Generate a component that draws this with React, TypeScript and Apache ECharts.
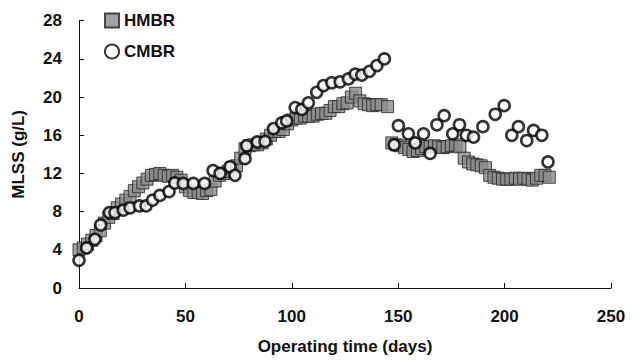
import React, { useEffect, useRef } from "react";
import * as echarts from "echarts";

const hmbrDays = [
  0, 2, 4, 6, 8, 10, 12, 14, 16, 18, 20, 22, 24, 26, 28, 30, 32, 34, 36, 38,
  40, 42, 44, 46, 48, 50, 52, 54, 56, 58, 60, 62, 64, 66, 68, 70, 72, 74, 76, 78,
  80, 82, 84, 86, 88, 90, 92, 94, 96, 98, 100, 102, 104, 106, 108, 110, 112, 114, 116, 118,
  120, 122, 124, 126, 128, 130, 132, 134, 136, 138, 140, 142, 145,
  147, 149, 151, 153, 155, 157, 159, 161, 163, 165, 167, 169, 171, 173, 175, 177, 179,
  181, 183, 185, 187, 189, 191, 193, 195, 197, 199, 201, 203, 205, 207, 209, 211, 213, 215, 217, 219, 221,
];
const hmbrValues = [
  4.0, 4.2, 4.6, 5.0, 5.5, 6.0, 6.8, 7.4, 7.8, 8.4, 8.8, 9.2, 9.6, 10.2, 10.6, 11.0, 11.4, 11.8, 11.9, 12.0,
  11.8, 11.7, 11.8, 11.6, 11.3, 10.6, 10.2, 10.0, 10.0, 9.9, 10.2, 10.3, 11.2, 11.8, 12.0, 12.2, 12.6, 12.8, 13.6, 14.6,
  14.9, 15.0, 15.0, 15.2, 15.6, 16.0, 16.4, 16.4, 16.6, 17.2, 17.6, 17.8, 17.8, 18.0, 18.0, 18.0, 18.2, 18.3, 18.3, 18.6,
  19.0, 19.0, 19.3, 19.4, 20.0, 20.4, 19.6, 19.3, 19.2, 19.1, 19.2, 19.2, 19.0,
  15.2, 15.0, 14.9, 14.7, 14.5, 14.3, 14.4, 14.6, 14.8, 14.8, 14.9, 14.8, 14.7, 14.8, 14.9, 15.0, 14.8,
  13.6, 13.2, 13.0, 12.9, 12.8, 12.6, 11.8, 11.6, 11.5, 11.4, 11.4, 11.4, 11.5, 11.4, 11.5, 11.4, 11.3, 11.5, 11.8, 11.8, 11.6,
];

const cmbrDays = [
  0, 3.6, 7.5, 10.2, 14.3, 16.9, 20.8, 24, 28.4, 31.5, 34.6, 38, 42.3, 45, 49, 53.7, 59, 63, 66.3, 71,
  73.3, 78, 78.8, 83.8, 87.4, 91.4, 95.3, 97.6, 101.6, 104.7, 107.8, 111.7, 114.9, 118.8, 122.7, 126.6, 129.8, 132.9, 136.5, 140,
  143.5, 148.1, 150.1, 154.8, 158, 161.9, 165, 168.2, 171.6, 175.6, 178.8, 182, 185.4, 189.8, 195.6, 199.8, 203.4, 206.5, 210.4, 213.6,
  217.5, 220.4,
];
const cmbrValues = [
  2.9, 4.2, 5.1, 6.6, 7.9, 7.9, 8.15, 8.4, 8.6, 8.6, 9.2, 9.7, 10.1, 11.0, 10.95, 10.95, 10.95, 12.3, 12.0, 12.7,
  11.8, 13.55, 14.9, 15.3, 15.35, 16.7, 17.3, 17.5, 18.9, 18.7, 19.4, 20.5, 21.2, 21.5, 21.6, 21.9, 22.4, 22.3, 22.7, 23.3,
  24.0, 15.0, 17.0, 16.15, 15.2, 16.15, 14.1, 17.1, 18.05, 16.15, 17.1, 16.0, 15.8, 16.9, 18.2, 19.1, 16.0, 16.9, 15.45, 16.5,
  16.0, 13.2,
];

const xTicks = [0, 50, 100, 150, 200, 250];
const yTicks = [0, 4, 8, 12, 16, 20, 24, 28];

const FONT = "Liberation Sans, Arial, sans-serif";

export default function App() {
  const ref = useRef<HTMLDivElement>(null);
  useEffect(() => {
    document.body.style.margin = "0";
    const chart = echarts.init(ref.current!, null, { renderer: "svg" });
    const labelStyle = { color: "#111", fontFamily: FONT, fontWeight: "bold" as const, fontSize: 17 };
    chart.setOption({
      animation: false,
      backgroundColor: "#fff",
      grid: { left: 79, right: 26, top: 20.7, bottom: 69.5, containLabel: false },
      legend: {
        orient: "vertical",
        left: 99,
        top: 7,
        itemWidth: 14,
        itemHeight: 14,
        itemGap: 14,
        textStyle: labelStyle,
        data: ["HMBR", "CMBR"],
      },
      xAxis: {
        type: "value",
        min: xTicks[0],
        max: xTicks[xTicks.length - 1],
        interval: 50,
        name: "Operating time (days)",
        nameLocation: "middle",
        nameGap: 50,
        nameTextStyle: labelStyle,
        axisLine: { show: true, lineStyle: { color: "#111", width: 1 } },
        axisTick: { show: true, inside: true, length: 5, lineStyle: { color: "#111" } },
        axisLabel: { ...labelStyle, margin: 20 },
        splitLine: { show: false },
      },
      yAxis: {
        type: "value",
        min: yTicks[0],
        max: yTicks[yTicks.length - 1],
        interval: 4,
        name: "MLSS (g/L)",
        nameLocation: "middle",
        nameGap: 52,
        nameTextStyle: labelStyle,
        axisLine: { show: true, lineStyle: { color: "#111", width: 1 } },
        axisTick: { show: true, inside: true, length: 5, lineStyle: { color: "#111" } },
        axisLabel: { ...labelStyle, margin: 17 },
        splitLine: { show: false },
      },
      series: [
        {
          name: "HMBR",
          type: "scatter",
          symbol: "rect",
          symbolSize: 12,
          itemStyle: { color: "#8c8c8c", borderColor: "#222", borderWidth: 1 },
          data: hmbrDays.map((d, i) => [d, hmbrValues[i]]),
          z: 2,
        },
        {
          name: "CMBR",
          type: "scatter",
          symbol: "circle",
          symbolSize: 11,
          itemStyle: { color: "#fff", borderColor: "#000", borderWidth: 2.6 },
          data: cmbrDays.map((d, i) => [d, cmbrValues[i]]),
          z: 3,
        },
      ],
    });
    return () => chart.dispose();
  }, []);
  return <div ref={ref} style={{ position: "absolute", left: 0, top: 0, width: 637, height: 360 }} />;
}
